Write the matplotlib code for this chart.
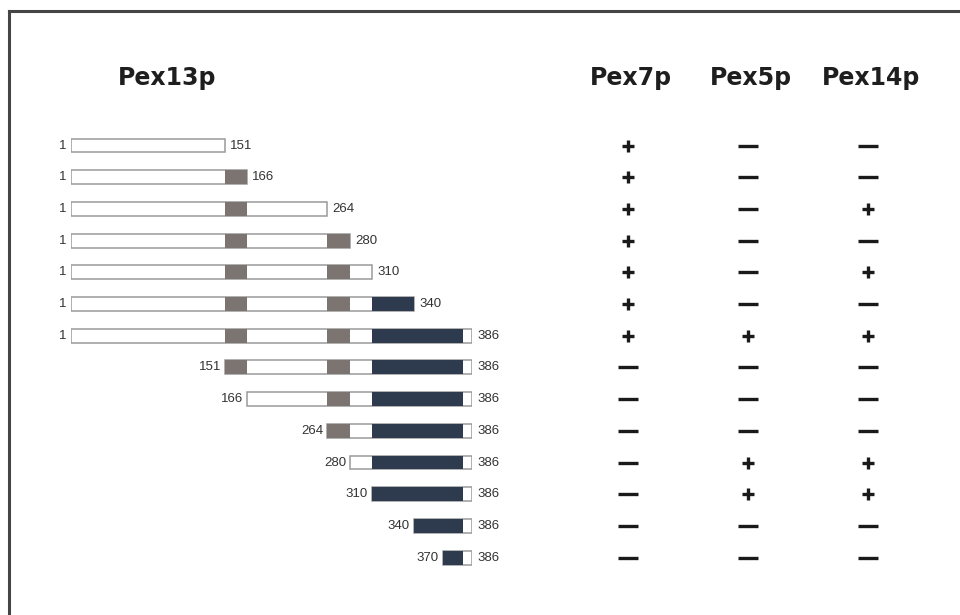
import numpy as np
import matplotlib
matplotlib.use("Agg")
import matplotlib.pyplot as plt
from matplotlib.patches import Rectangle
from matplotlib.lines import Line2D

# Pex13p truncation constructs (residue numbers)
starts = [1, 1, 1, 1, 1, 1, 1, 151, 166, 264, 280, 310, 340, 370]
ends = [151, 166, 264, 280, 310, 340, 386, 386, 386, 386, 386, 386, 386, 386]

# domains inside the protein
gray_domains = [(151, 166), (264, 280)]
dark_domains = [(310, 378)]

# binding results
partners = ["Pex7p", "Pex5p", "Pex14p"]
pex7 = ["+", "+", "+", "+", "+", "+", "+", "-", "-", "-", "-", "-", "-", "-"]
pex5 = ["-", "-", "-", "-", "-", "-", "+", "-", "-", "-", "+", "+", "-", "-"]
pex14 = ["-", "-", "+", "-", "+", "-", "+", "-", "-", "-", "+", "+", "-", "-"]

W, H = 960, 615
fig = plt.figure(figsize=(W / 100, H / 100), dpi=100)
fig.patch.set_facecolor("white")

# schematic (not to scale) residue axis: piecewise-linear scale
knot_res = np.array([1, 151, 166, 264, 280, 310, 340, 370, 378, 386], float)
knot_px = np.array([70.5, 225, 247, 327, 350, 372, 414, 443, 463, 472], float)
x0, x1 = knot_px[0], knot_px[-1]
knot_frac = (knot_px - x0) / (x1 - x0)


def fwd(v):
    return np.interp(v, knot_res, knot_frac)


def inv(v):
    return np.interp(v, knot_frac, knot_res)


row0_px, row_step = 145.5, 31.7
ylim = ((H - row0_px) / row_step, -row0_px / row_step)

ax = fig.add_axes([x0 / W, 0, (x1 - x0) / W, 1])
ax.set_xscale("function", functions=(fwd, inv))
ax.set_xlim(1, 386)
ax.set_ylim(*ylim)
ax.axis("off")

bar_h = 0.44
gray_c = "#7b7471"
dark_c = "#2e3a4e"
edge_c = "#9a9a9a"
num_font = dict(family="Liberation Sans", fontsize=9.5, color="#333333")

for i, (s, e) in enumerate(zip(starts, ends)):
    ax.add_patch(Rectangle((s, i - bar_h / 2), e - s, bar_h,
                           facecolor="white", edgecolor=edge_c, lw=1.1, zorder=1))
    for color, doms in ((gray_c, gray_domains), (dark_c, dark_domains)):
        for ds, de in doms:
            a, b = max(s, ds), min(e, de)
            if b > a:
                ax.add_patch(Rectangle((a, i - bar_h / 2), b - a, bar_h,
                                       facecolor=color, edgecolor="none", zorder=2))
    ax.annotate(str(s), (s, i), xytext=(-4, 0), textcoords="offset pixels",
                ha="right", va="center", **num_font)
    ax.annotate(str(e), (e, i), xytext=(5, 0), textcoords="offset pixels",
                ha="left", va="center", **num_font)

# results table
col_px = np.array([627.5, 747.5, 867.5])
ax2 = fig.add_axes([(col_px[0] - 60) / W, 0, (col_px[-1] - col_px[0] + 120) / W, 1])
ax2.set_xlim(-0.5, 2.5)
ax2.set_ylim(*ylim)
ax2.axis("off")

for j, res in enumerate([pex7, pex5, pex14]):
    for i, r in enumerate(res):
        if r == "+":
            ax2.plot(j, i, marker="+", ms=9, mew=2.4, color="#1a1a1a")
        else:
            ax2.plot(j, i, marker="_", ms=15, mew=2.4, color="#1a1a1a")

head_font = dict(family="DejaVu Sans", fontweight="bold", fontsize=17, color="#1e1e1e")
head_row = (85 - row0_px) / row_step
for j, name in enumerate(partners):
    ax2.text(j + 0.03, head_row, name, ha="center", va="baseline", **head_font)
fig.text(167 / W, 1 - 85 / H, "Pex13p", ha="center", va="baseline", **head_font)

# frame (top and left edges of the panel)
fig.add_artist(Line2D([9 / W, 9 / W], [0, 1 - 11 / H], color="#454545", lw=2.2))
fig.add_artist(Line2D([9 / W, 1], [1 - 11 / H, 1 - 11 / H], color="#454545", lw=2.2))

fig.savefig("out.png", dpi=100, facecolor="white")
